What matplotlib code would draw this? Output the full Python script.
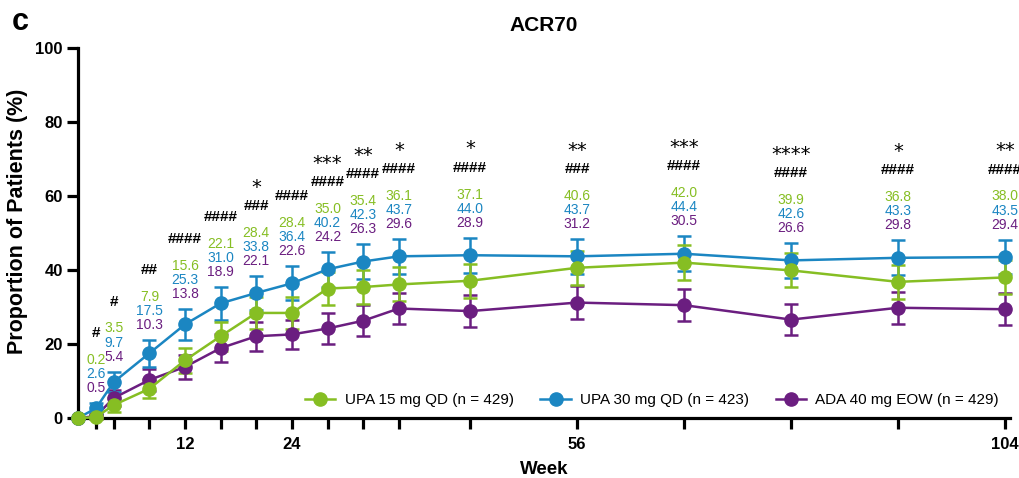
import matplotlib
matplotlib.use("Agg")
import matplotlib.pyplot as plt
from matplotlib.lines import Line2D

plt.rcParams['font.family'] = ['Liberation Sans', 'DejaVu Sans']

# data
weeks = [0, 2, 4, 8, 12, 16, 20, 24, 28, 32, 36, 44, 56, 68, 80, 92, 104]
upa15 = [0, 0.2, 3.5, 7.9, 15.6, 22.1, 28.4, 28.4, 35.0, 35.4, 36.1, 37.1, 40.6, 42.0, 39.9, 36.8, 38.0]
upa30 = [0, 2.6, 9.7, 17.5, 25.3, 31.0, 33.8, 36.4, 40.2, 42.3, 43.7, 44.0, 43.7, 44.4, 42.6, 43.3, 43.5]
ada = [0, 0.5, 5.4, 10.3, 13.8, 18.9, 22.1, 22.6, 24.2, 26.3, 29.6, 28.9, 31.2, 30.5, 26.6, 29.8, 29.4]

# half length of the error bars (estimated)
upa15_err = [0, 0.4, 1.8, 2.6, 3.4, 3.9, 4.3, 4.3, 4.5, 4.5, 4.6, 4.6, 4.6, 4.7, 4.6, 4.6, 4.6]
upa30_err = [0, 1.5, 2.8, 3.6, 4.1, 4.4, 4.5, 4.6, 4.7, 4.7, 4.7, 4.7, 4.7, 4.7, 4.7, 4.7, 4.7]
ada_err = [0, 0.7, 2.1, 2.9, 3.3, 3.7, 3.9, 4.0, 4.1, 4.2, 4.3, 4.3, 4.4, 4.4, 4.2, 4.3, 4.3]

stars = ['', '', '', '', '', '', '*', '', '***', '**', '*', '*', '**', '***', '****', '*', '**']
hashes = ['', '#', '#', '##', '####', '####', '###', '####', '####', '####', '####', '####',
          '###', '####', '####', '####', '####']

labelled_weeks = [12, 24, 56, 104]
series_names = ['UPA 15 mg QD (n = 429)', 'UPA 30 mg QD (n = 423)', 'ADA 40 mg EOW (n = 429)']

green = '#86BE23'
blue = '#1B86C2'
purple = '#6B1E80'

fig = plt.figure(figsize=(10.2, 4.78), dpi=100)
ax = fig.add_axes([0.0765, 0.1255, 0.914, 0.774])

# purple underneath, green on top
for vals, errs, col in [(ada, ada_err, purple), (upa30, upa30_err, blue), (upa15, upa15_err, green)]:
    ax.errorbar(weeks, vals, yerr=errs, color=col, marker='o', markersize=9.5, linewidth=1.8,
                elinewidth=1.8, capsize=5, capthick=1.8, clip_on=False, zorder=3)

# value labels and significance marks above each time point
for i, w in enumerate(weeks):
    if w == 0:
        continue
    top = upa30[i] + upa30_err[i]
    kw = dict(xy=(w, top), textcoords='offset points', ha='center', va='center', annotation_clip=False)
    ax.annotate(f'{ada[i]:.1f}', xytext=(0, 10.8), color=purple, fontsize=10, **kw)
    ax.annotate(f'{upa30[i]:.1f}', xytext=(0, 21), color=blue, fontsize=10, **kw)
    ax.annotate(f'{upa15[i]:.1f}', xytext=(0, 31.2), color=green, fontsize=10, **kw)
    if hashes[i]:
        ax.annotate(hashes[i], xytext=(0, 50.5), color='black', fontsize=11, fontweight='bold', **kw)
    if stars[i]:
        ax.annotate(stars[i], xytext=(0, 64), color='black', fontsize=14,
                    family='DejaVu Sans', **kw)

ax.set_xlim(0, 104.6)
ax.set_ylim(0, 100)
ax.set_yticks([0, 20, 40, 60, 80, 100])
ax.set_xticks(weeks[1:])
ax.set_xticklabels([str(w) if w in labelled_weeks else '' for w in weeks[1:]])

for side in ['top', 'right']:
    ax.spines[side].set_visible(False)
for side in ['left', 'bottom']:
    ax.spines[side].set_linewidth(2.3)
ax.tick_params(axis='both', length=8, width=2.3, labelsize=12, pad=3)
ax.tick_params(axis='x', pad=6)
for lab in ax.get_xticklabels() + ax.get_yticklabels():
    lab.set_fontweight('bold')

ax.set_xlabel('Week', fontsize=13.5, fontweight='bold', labelpad=6)
ax.set_ylabel('Proportion of Patients (%)', fontsize=15.5, fontweight='bold')
ax.yaxis.set_label_coords(-0.054, 0.532)
ax.set_title('ACR70', fontsize=15, fontweight='bold', pad=12)
fig.text(0.012, 0.955, 'c', fontsize=22, fontweight='bold', va='center')

handles = [Line2D([], [], color=c, marker='o', markersize=9.5, linewidth=1.8) for c in [green, blue, purple]]
ax.legend(handles, series_names, ncol=3, frameon=False, fontsize=11, loc='center right',
          bbox_to_anchor=(0.988, 0.048), handlelength=2, handletextpad=0.6, columnspacing=1.75,
          borderaxespad=0, borderpad=0)

fig.savefig('out.png', dpi=100)
